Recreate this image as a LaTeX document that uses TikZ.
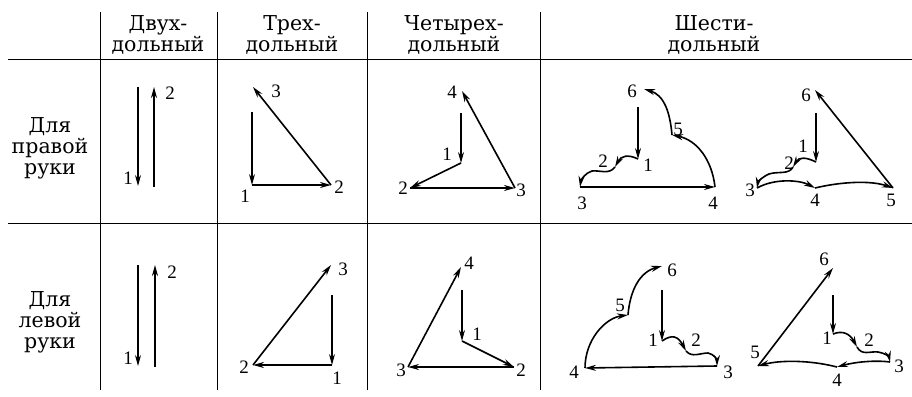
\documentclass[tikz,border=0pt]{standalone}
\usepackage{fontspec}
\setmainfont{DejaVu Serif}
\newfontfamily\numfont{Liberation Serif}
\usetikzlibrary{arrows.meta}
\begin{document}
\begin{tikzpicture}[x=1pt,y=-1pt,
  grid/.style={line width=1pt},
  hdr/.style={font=\fontsize{20.5}{21}\selectfont, align=center, inner sep=0pt},
  num/.style={font=\numfont\fontsize{19}{19}\selectfont, inner sep=0pt},
  arr/.style={-{Stealth[length=11pt,width=6pt]}, line width=1.6pt},
  dn/.style={-{Stealth[length=11pt,width=6pt]}, line width=1.1pt}]
\useasboundingbox (0,0) rectangle (912,396);
% table
\draw[grid] (8,60) -- (912,60);
\draw[grid] (8,223) -- (912,223);
\foreach \x in {100,217,367,540} \draw[grid] (\x,12) -- (\x,390);
% headers
\node[hdr] (h1) at (158,35) {Двух-\\дольный};
\node[hdr] (h2) at (292,35) {Трех-\\дольный};
\node[hdr] (h3) at (454,35) {Четырех-\\дольный};
\node[hdr] (h4) at (714,35) {Шести-\\дольный};
\node[hdr] (r1) at (50,148) {Для\\правой\\руки};
\node[hdr] (r2) at (50,322) {Для\\левой\\руки};

% ===== right hand =====
% two
\coordinate (a0) at (138,87); \coordinate (a1) at (138,186);
\coordinate (b0) at (154,187); \coordinate (b1) at (154,87);
\draw[dn] (a0) -- (a1); \draw[arr] (b0) -- (b1);
\node[num] (la1) at (128,178) {1}; \node[num] (lb2) at (170,93) {2};
% three
\coordinate (c0) at (252,112); \coordinate (c1) at (252,185);
\coordinate (c2) at (331,185); \coordinate (c3) at (253,87);
\draw[dn] (c0) -- (c1); \draw[arr] (c1) -- (c2); \draw[arr] (c2) -- (c3);
\node[num] (lc1) at (245,196) {1}; \node[num] (lc2) at (339,187) {2}; \node[num] (lc3) at (276,91) {3};
% four
\coordinate (d0) at (461,113); \coordinate (d1) at (461,163);
\coordinate (d2) at (410,188); \coordinate (d3) at (515,188); \coordinate (d4) at (462,91);
\draw[dn] (d0) -- (d1); \draw[arr] (d1) -- (d2); \draw[arr] (d2) -- (d3); \draw[arr] (d3) -- (d4);
\node[num] (ld1) at (447,154) {1}; \node[num] (ld2) at (403,188) {2}; \node[num] (ld3) at (521,190) {3}; \node[num] (ld4) at (452,92) {4};
% six (1)
\coordinate (e0) at (638,107); \coordinate (e1) at (638,159);
\coordinate (e2) at (615,167); \coordinate (e3) at (580,187);
\coordinate (e4) at (715,187); \coordinate (e5) at (672,135); \coordinate (e6) at (644,89);
\draw[dn] (e0) -- (e1);
\draw[arr] (e1) .. controls (628,154) and (621,156) .. (e2);
\draw[arr] (e2) .. controls (609,175) and (600,170) .. (592,171) .. controls (585,173) and (581,180) .. (e3);
\draw[arr] (e3) -- (e4);
\draw[arr] (e4) .. controls (712,160) and (697,140) .. (e5);
\draw[arr] (e5) .. controls (670,112) and (664,95) .. (e6);
\node[num] (le1) at (648,165) {1}; \node[num] (le2) at (603,161) {2}; \node[num] (le3) at (582,203) {3};
\node[num] (le4) at (713,203) {4}; \node[num] (le5) at (678,129) {5}; \node[num] (le6) at (632,91) {6};
% six (2)
\coordinate (f0) at (816,113); \coordinate (f1) at (816,162);
\coordinate (f2) at (793,167); \coordinate (f3) at (757,188);
\coordinate (f4) at (815,188); \coordinate (f5) at (893,188); \coordinate (f6) at (815,90);
\draw[dn] (f0) -- (f1);
\draw[arr] (f1) .. controls (806,157) and (799,157) .. (f2);
\draw[arr] (f2) .. controls (789,175) and (778,171) .. (769,174) .. controls (762,177) and (758,182) .. (f3);
\draw[arr] (f3) .. controls (775,178) and (800,180) .. (f4);
\draw[arr] (f4) .. controls (840,182) and (870,180) .. (f5);
\draw[arr] (f5) -- (f6);
\node[num] (lf1) at (803,146) {1}; \node[num] (lf2) at (789,163) {2}; \node[num] (lf3) at (750,190) {3};
\node[num] (lf4) at (815,200) {4}; \node[num] (lf5) at (891,200) {5}; \node[num] (lf6) at (806,95) {6};

% ===== left hand =====
% two
\coordinate (g0) at (138,265); \coordinate (g1) at (138,366);
\coordinate (k0) at (155,367); \coordinate (k1) at (155,265);
\draw[dn] (g0) -- (g1); \draw[arr] (k0) -- (k1);
\node[num] (lg1) at (128,358) {1}; \node[num] (lk2) at (172,272) {2};
% three
\coordinate (m0) at (332,295); \coordinate (m1) at (332,365);
\coordinate (m2) at (253,365); \coordinate (m3) at (331,265);
\draw[dn] (m0) -- (m1); \draw[arr] (m1) -- (m2); \draw[arr] (m2) -- (m3);
\node[num] (lm1) at (337,378) {1}; \node[num] (lm2) at (244,367) {2}; \node[num] (lm3) at (343,269) {3};
% four
\coordinate (n0) at (462,290); \coordinate (n1) at (462,341);
\coordinate (n2) at (514,367); \coordinate (n3) at (408,367); \coordinate (n4) at (461,267);
\draw[dn] (n0) -- (n1); \draw[arr] (n1) -- (n2); \draw[arr] (n2) -- (n3); \draw[arr] (n3) -- (n4);
\node[num] (ln1) at (477,334) {1}; \node[num] (ln2) at (521,370) {2}; \node[num] (ln3) at (401,370) {3}; \node[num] (ln4) at (469,263) {4};
% six (1)
\coordinate (p0) at (662,290); \coordinate (p1) at (662,341);
\coordinate (p2) at (686,351); \coordinate (p3) at (717,366);
\coordinate (p4) at (585,368); \coordinate (p5) at (628,315); \coordinate (p6) at (662,266);
\draw[dn] (p0) -- (p1);
\draw[arr] (p1) .. controls (672,334) and (678,336) .. (p2);
\draw[arr] (p2) .. controls (692,358) and (700,353) .. (708,353) .. controls (714,354) and (717,360) .. (p3);
\draw[arr] (p3) -- (p4);
\draw[arr] (p4) .. controls (585,340) and (605,318) .. (p5);
\draw[arr] (p5) .. controls (630,290) and (640,272) .. (p6);
\node[num] (lp1) at (653,340) {1}; \node[num] (lp2) at (696,340) {2}; \node[num] (lp3) at (728,372) {3};
\node[num] (lp4) at (574,372) {4}; \node[num] (lp5) at (620,305) {5}; \node[num] (lp6) at (672,270) {6};
% six (2)
\coordinate (q0) at (833,295); \coordinate (q1) at (833,334);
\coordinate (q2) at (857,347); \coordinate (q3) at (890,362);
\coordinate (q4) at (837,367); \coordinate (q5) at (758,366); \coordinate (q6) at (833,268);
\draw[dn] (q0) -- (q1);
\draw[arr] (q1) .. controls (843,330) and (850,334) .. (q2);
\draw[arr] (q2) .. controls (862,356) and (870,351) .. (878,352) .. controls (885,353) and (889,357) .. (q3);
\draw[arr] (q3) .. controls (875,360) and (855,362) .. (q4);
\draw[arr] (q4) .. controls (810,360) and (780,360) .. (q5);
\draw[arr] (q5) -- (q6);
\node[num] (lq1) at (827,338) {1}; \node[num] (lq2) at (869,340) {2}; \node[num] (lq3) at (899,366) {3};
\node[num] (lq4) at (837,380) {4}; \node[num] (lq5) at (755,352) {5}; \node[num] (lq6) at (824,259) {6};
\end{tikzpicture}
\end{document}
